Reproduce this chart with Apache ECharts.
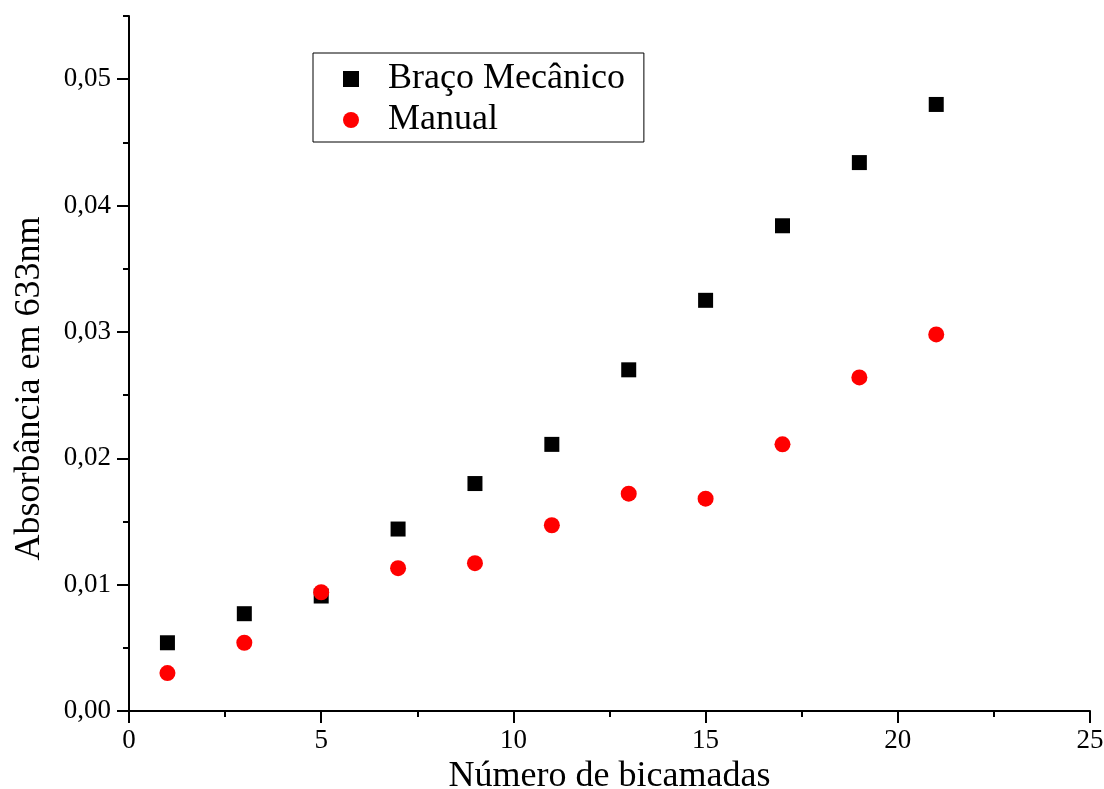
<!DOCTYPE html>
<html>
<head>
<meta charset="utf-8">
<script src="https://cdn.jsdelivr.net/npm/echarts@6/dist/echarts.min.js"></script>
<style>
html,body{margin:0;padding:0;background:#fff;}
#chart{width:1104px;height:789px;}
</style>
</head>
<body>
<div id="chart"></div>
<script>
const camadas = [1, 3, 5, 7, 9, 11, 13, 15, 17, 19, 21];
const bracoMecanico = [0.0054, 0.0077, 0.0091, 0.0144, 0.0180, 0.0211, 0.0270, 0.0325, 0.0384, 0.0434, 0.0480];
const manual = [0.0030, 0.0054, 0.0094, 0.0113, 0.0117, 0.0147, 0.0172, 0.0168, 0.0211, 0.0264, 0.0298];
const yMajorTicks = [0, 0.01, 0.02, 0.03, 0.04, 0.05];
const yMinorTicks = [0.005, 0.015, 0.025, 0.035, 0.045, 0.055];
const seriesNames = ['Braço Mecânico', 'Manual'];
const xTitle = 'Número de bicamadas';
const yTitle = 'Absorbância em 633nm';

const FONT = '"Liberation Serif", "Times New Roman", serif';
const pairs = (ys) => camadas.map((x, i) => [x, ys[i]]);

const chart = echarts.init(document.getElementById('chart'), null, {renderer: 'canvas'});
chart.setOption({
  backgroundColor: '#ffffff',
  animation: false,
  textStyle: {fontFamily: FONT, color: '#000'},
  grid: {left: 129, right: 14, top: 16, bottom: 78, containLabel: false, outerBoundsMode: 'none'},
  legend: {
    orient: 'vertical',
    left: 313,
    top: 53,
    padding: [8, 19, 4, 30],
    borderColor: '#000',
    borderWidth: 1,
    itemGap: 5,
    itemWidth: 16,
    itemHeight: 16,
    textStyle: {fontFamily: FONT, fontSize: 36, color: '#000', lineHeight: 36, padding: [0, 0, 0, 24]},
    data: [
      {name: seriesNames[0], icon: 'rect', itemStyle: {color: '#000'}},
      {name: seriesNames[1], icon: 'circle', itemStyle: {color: '#ff0000'}}
    ]
  },
  xAxis: {
    type: 'value',
    min: 0, max: 25, interval: 5,
    name: xTitle,
    nameLocation: 'middle',
    nameGap: 43,
    nameTextStyle: {fontFamily: FONT, fontSize: 36, color: '#000'},
    axisLine: {show: true, onZero: false, lineStyle: {color: '#000', width: 2}},
    axisTick: {show: true, inside: false, length: 12, lineStyle: {color: '#000', width: 2}},
    minorTick: {show: true, splitNumber: 2, length: 6, lineStyle: {color: '#000', width: 2}},
    axisLabel: {fontFamily: FONT, fontSize: 27, color: '#000', margin: 16},
    splitLine: {show: false},
    minorSplitLine: {show: false}
  },
  yAxis: [{
    type: 'value',
    min: 0, max: 0.055,
    name: yTitle,
    nameLocation: 'middle',
    nameGap: 81,
    nameRotate: 90,
    nameTextStyle: {fontFamily: FONT, fontSize: 36, color: '#000', padding: [0, 50, 0, 0]},
    axisLine: {show: true, onZero: false, lineStyle: {color: '#000', width: 2}},
    axisTick: {show: true, inside: false, length: 12, customValues: yMajorTicks, lineStyle: {color: '#000', width: 2}},
    axisLabel: {fontFamily: FONT, fontSize: 27, color: '#000', margin: 18, customValues: yMajorTicks,
      formatter: (v) => v.toFixed(2).replace('.', ',')},
    splitLine: {show: false}
  }, {
    type: 'value',
    position: 'left',
    min: 0, max: 0.055,
    axisLine: {show: false},
    axisTick: {show: true, inside: false, length: 6, customValues: yMinorTicks, lineStyle: {color: '#000', width: 2}},
    axisLabel: {show: false},
    splitLine: {show: false}
  }],
  series: [
    {
      name: seriesNames[0], type: 'scatter', yAxisIndex: 0,
      symbol: 'rect', symbolSize: 15,
      itemStyle: {color: '#000', opacity: 1},
      data: pairs(bracoMecanico), z: 2
    },
    {
      name: seriesNames[1], type: 'scatter', yAxisIndex: 0,
      symbol: 'circle', symbolSize: 16,
      itemStyle: {color: '#ff0000', opacity: 1},
      data: pairs(manual), z: 3
    }
  ]
});
</script>
</body>
</html>
